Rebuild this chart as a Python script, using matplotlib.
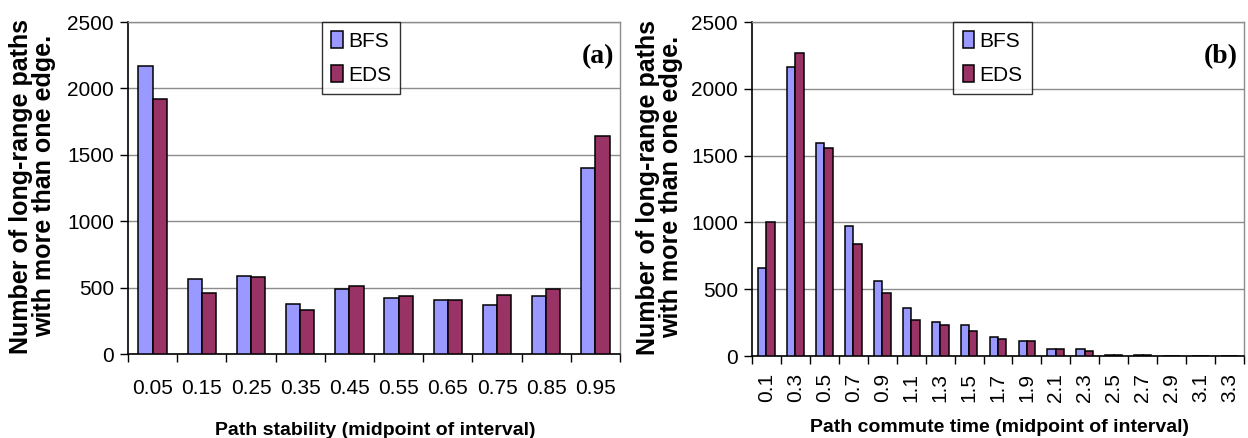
import numpy as np
import matplotlib
matplotlib.use('Agg')
import matplotlib.pyplot as plt

# data
stab_labels = ['0.05', '0.15', '0.25', '0.35', '0.45', '0.55', '0.65', '0.75', '0.85', '0.95']
stab_bfs = [2170, 565, 590, 380, 490, 420, 405, 370, 435, 1400]
stab_eds = [1920, 460, 580, 330, 515, 435, 405, 445, 490, 1645]

comm_labels = ['0.1', '0.3', '0.5', '0.7', '0.9', '1.1', '1.3', '1.5', '1.7', '1.9',
               '2.1', '2.3', '2.5', '2.7', '2.9', '3.1', '3.3']
comm_bfs = [660, 2165, 1595, 970, 565, 360, 255, 230, 140, 115, 50, 50, 10, 10, 0, 0, 0]
comm_eds = [1000, 2270, 1555, 840, 475, 270, 230, 190, 125, 115, 50, 35, 10, 10, 0, 0, 0]

BFS_COLOR = '#9999FF'
EDS_COLOR = '#993366'

plt.rcParams['font.family'] = ['Liberation Sans', 'DejaVu Sans']

fig = plt.figure(figsize=(12.48, 4.38), dpi=100)
ax1 = fig.add_axes([128 / 1248, 1 - 354 / 438, 492 / 1248, 332 / 438])
ax2 = fig.add_axes([752 / 1248, 1 - 356 / 438, 492 / 1248, 334 / 438])


def draw_panel(ax, labels, bfs, eds, tag, xlabel, rot, tickpad, leg_x, ylab_x, xlab_y):
    x = np.arange(len(labels))
    w = 0.29
    ax.bar(x - w / 2, bfs, w, color=BFS_COLOR, edgecolor='black', linewidth=1.1,
           label='BFS', zorder=3)
    ax.bar(x + w / 2, eds, w, color=EDS_COLOR, edgecolor='black', linewidth=1.1,
           label='EDS', zorder=3)

    ax.set_xlim(-0.5, len(labels) - 0.5)
    ax.set_ylim(0, 2500)
    ax.set_yticks(np.arange(0, 2501, 500))
    ax.yaxis.grid(True, color='#8c8c8c', linewidth=1.0, zorder=0)

    # category labels at centers, tick marks at category boundaries
    ax.set_xticks(x)
    ax.set_xticklabels(labels, rotation=rot, fontsize=15)
    ax.set_xticks(np.arange(-0.5, len(labels)), minor=True)
    ax.tick_params(axis='x', which='major', length=0, pad=tickpad)
    ax.tick_params(axis='x', which='minor', length=6, width=1, direction='out')
    ax.tick_params(axis='y', length=6, width=1, direction='out', pad=4, labelsize=15)

    for s in ['left', 'bottom']:
        ax.spines[s].set_color('black')
        ax.spines[s].set_linewidth(1.2)
    for s in ['top', 'right']:
        ax.spines[s].set_color('#8c8c8c')
        ax.spines[s].set_linewidth(1.0)

    ax.set_ylabel('Number of long-range paths\nwith more than one edge.',
                  fontsize=18, fontweight='bold', linespacing=0.95)
    ax.yaxis.set_label_coords(ylab_x, 0.505)
    ax.set_xlabel(xlabel, fontsize=14, fontweight='bold')
    ax.xaxis.set_label_coords(0.503, xlab_y)

    ax.text(0.988, 0.895, tag, transform=ax.transAxes, ha='right', va='center',
            fontsize=20, fontweight='bold', family='Liberation Serif')

    leg = ax.legend(loc='upper left', bbox_to_anchor=(leg_x, 1.0), borderaxespad=0,
                    fontsize=15, frameon=True, fancybox=False, handlelength=0.55,
                    handleheight=0.85, handletextpad=0.25, labelspacing=0.7,
                    borderpad=0.45)
    leg.get_frame().set_edgecolor('black')
    leg.get_frame().set_linewidth(1.0)


draw_panel(ax1, stab_labels, stab_bfs, stab_eds, '(a)',
           'Path stability (midpoint of interval)', 0, 18, 0.394, -0.146, -0.205)
draw_panel(ax2, comm_labels, comm_bfs, comm_eds, '(b)',
           'Path commute time (midpoint of interval)', 90, 12, 0.409, -0.14, -0.188)

plt.savefig('out.png', dpi=100)
